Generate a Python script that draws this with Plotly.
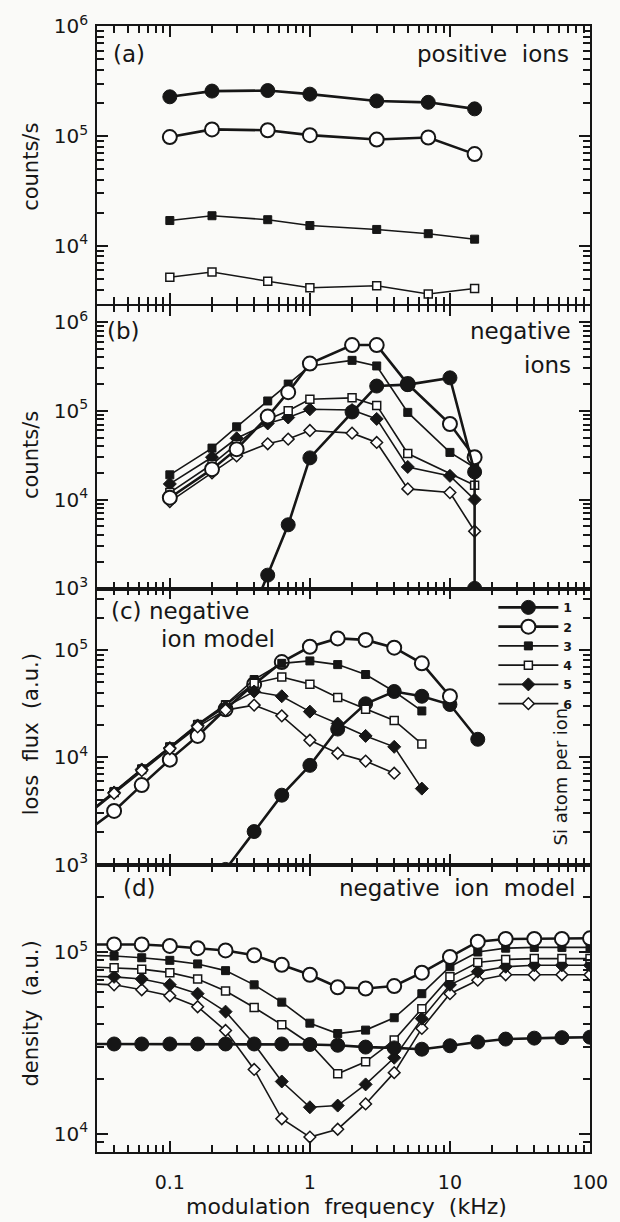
import plotly.graph_objects as go
from plotly.subplots import make_subplots

# ---------------- data ----------------
# panel (a) positive ions
fa = [0.1, 0.2, 0.5, 1, 3, 7, 15]
a1 = [2.28e5, 2.57e5, 2.6e5, 2.41e5, 2.09e5, 2.03e5, 1.77e5]
a2 = [9.8e4, 1.15e5, 1.13e5, 1.02e5, 9.3e4, 9.7e4, 6.85e4]
a3 = [1.7e4, 1.88e4, 1.73e4, 1.53e4, 1.41e4, 1.29e4, 1.15e4]
a4 = [5.17e3, 5.77e3, 4.76e3, 4.15e3, 4.33e3, 3.64e3, 4.09e3]

# panel (b) negative ions
fb = [0.1, 0.2, 0.3, 0.5, 0.7, 1, 2, 3, 5, 10, 15]
fb1 = [0.3, 0.5, 0.7, 1, 2, 3, 5, 10, 15, 15]
b1 = [2e2, 1.41e3, 5.2e3, 2.95e4, 9.7e4, 1.9e5, 1.97e5, 2.35e5, 2.05e4, 1e3]
b2 = [1.05e4, 2.2e4, 3.7e4, 8.6e4, 1.62e5, 3.4e5, 5.5e5, 5.5e5, 2.0e5, 7.1e4, 3.0e4]
b3 = [1.9e4, 3.8e4, 6.6e4, 1.29e5, 2.0e5, 3.2e5, 3.7e5, 3.2e5, 9.6e4, 3.4e4, 2.3e4]
fb4 = [0.1, 0.2, 0.3, 0.5, 0.7, 1, 2, 3, 5, 15]
b4 = [1.2e4, 2.5e4, 4.2e4, 8.0e4, 1.0e5, 1.35e5, 1.4e5, 1.15e5, 3.3e4, 1.45e4]
b5 = [1.5e4, 3.0e4, 4.9e4, 7.2e4, 8.4e4, 1.04e5, 1.02e5, 8.1e4, 2.33e4, 1.85e4, 1.0e4]
b6 = [9.5e3, 2.0e4, 3.1e4, 4.25e4, 4.8e4, 6.0e4, 5.6e4, 4.4e4, 1.32e4, 1.2e4, 4.4e3]

# panel (c) negative ion model: loss flux
fc = [0.025, 0.04, 0.063, 0.1, 0.158, 0.25, 0.4, 0.63, 1.0, 1.58, 2.5, 4.0, 6.3, 10, 15.8]
fc1 = [0.25, 0.4, 0.63, 1.0, 1.58, 2.5, 4.0, 6.3, 10, 15.8]
c1 = [9e2, 2.03e3, 4.43e3, 8.4e3, 1.83e4, 3.15e4, 4.1e4, 3.7e4, 3.1e4, 1.47e4]
c2 = [2.0e3, 3.16e3, 5.5e3, 9.5e3, 1.58e4, 2.8e4, 4.8e4, 7.7e4, 1.07e5, 1.28e5, 1.24e5, 1.05e5, 7.5e4, 3.7e4]
c3 = [2.9e3, 4.8e3, 7.8e3, 1.25e4, 2.03e4, 3.1e4, 5.3e4, 7.5e4, 7.9e4, 7.3e4, 5.9e4, 4.1e4, 2.7e4]
c4 = [2.9e3, 4.7e3, 7.7e3, 1.24e4, 2.0e4, 3.05e4, 4.9e4, 5.6e4, 4.8e4, 3.6e4, 2.8e4, 2.2e4, 1.33e4]
c5 = [2.85e3, 4.7e3, 7.7e3, 1.22e4, 1.98e4, 2.95e4, 4.1e4, 3.7e4, 2.66e4, 2.06e4, 1.58e4, 1.25e4, 5.1e3]
c6 = [2.8e3, 4.6e3, 7.5e3, 1.2e4, 1.92e4, 2.75e4, 3.06e4, 2.43e4, 1.44e4, 1.09e4, 9.2e3, 7.1e3]

# panel (d) negative ion model: density
fd = [0.025, 0.04, 0.063, 0.1, 0.158, 0.25, 0.4, 0.63, 1.0, 1.58, 2.5, 4.0, 6.3, 10, 15.8, 25, 40, 63, 100]
d1 = [3.12e4, 3.12e4, 3.12e4, 3.12e4, 3.12e4, 3.12e4, 3.12e4, 3.12e4, 3.1e4, 3.07e4, 3.0e4, 2.97e4, 2.92e4, 3.05e4, 3.2e4, 3.32e4, 3.36e4, 3.38e4, 3.4e4]
d2 = [1.1e5, 1.1e5, 1.1e5, 1.08e5, 1.05e5, 1.02e5, 9.6e4, 8.5e4, 7.5e4, 6.4e4, 6.3e4, 6.5e4, 7.7e4, 9.4e4, 1.14e5, 1.18e5, 1.18e5, 1.18e5, 1.19e5]
d3 = [9.6e4, 9.5e4, 9.3e4, 9.0e4, 8.6e4, 7.9e4, 6.6e4, 5.3e4, 4.06e4, 3.56e4, 3.72e4, 4.35e4, 5.9e4, 8.3e4, 1.0e5, 1.05e5, 1.06e5, 1.06e5, 1.06e5]
d4 = [8.3e4, 8.2e4, 8.05e4, 7.7e4, 7.1e4, 6.1e4, 4.95e4, 3.98e4, 3.13e4, 2.14e4, 2.49e4, 3.28e4, 4.87e4, 7.3e4, 8.75e4, 9.1e4, 9.2e4, 9.2e4, 9.2e4]
d5 = [7.35e4, 7.3e4, 7.1e4, 6.6e4, 5.9e4, 4.7e4, 3.12e4, 1.94e4, 1.4e4, 1.43e4, 1.87e4, 2.62e4, 4.3e4, 6.6e4, 7.8e4, 8.3e4, 8.45e4, 8.45e4, 8.45e4]
d6 = [6.7e4, 6.6e4, 6.2e4, 5.75e4, 5.0e4, 3.7e4, 2.26e4, 1.21e4, 9.6e3, 1.06e4, 1.46e4, 2.17e4, 3.8e4, 5.9e4, 7.0e4, 7.5e4, 7.5e4, 7.5e4, 7.5e4]

series_names = ["1", "2", "3", "4", "5", "6"]
x_major = [0.01, 0.1, 1, 10, 100]
x_major_text = ["0.01", "0.1", "1", "10", "100"]
y_exponents = [3, 4, 5, 6]

# ---------------- styling ----------------
INK = "#161616"
BG = "#fafaf8"
FONT = "DejaVu Sans, Verdana, sans-serif"

styles = {
    "1": dict(symbol="circle", size=14, fill=INK, lw=2.6, mlw=1),
    "2": dict(symbol="circle", size=14, fill="white", lw=2.6, mlw=2),
    "3": dict(symbol="square", size=8, fill=INK, lw=1.6, mlw=1),
    "4": dict(symbol="square", size=8, fill="white", lw=1.6, mlw=1.5),
    "5": dict(symbol="diamond", size=10, fill=INK, lw=1.6, mlw=1),
    "6": dict(symbol="diamond", size=9, fill="white", lw=1.6, mlw=1.5),
}

fig = make_subplots(rows=4, cols=1, shared_xaxes=True, vertical_spacing=0)


def add(row, x, y, key, legend=False):
    s = styles[key]
    fig.add_trace(go.Scatter(
        x=x, y=y, mode="lines+markers", name=key, showlegend=legend,
        line=dict(color=INK, width=s["lw"]),
        marker=dict(symbol=s["symbol"], size=s["size"], color=s["fill"],
                    line=dict(color=INK, width=s["mlw"])),
    ), row=row, col=1)


add(1, fa, a1, "1"); add(1, fa, a2, "2"); add(1, fa, a3, "3"); add(1, fa, a4, "4")

add(2, fb, b6, "6"); add(2, fb, b5, "5"); add(2, fb4, b4, "4")
add(2, fb, b3, "3"); add(2, fb, b2, "2"); add(2, fb1, b1, "1")

add(3, fc1, c1, "1", True); add(3, fc[:-1], c2, "2", True); add(3, fc[:-2], c3, "3", True)
add(3, fc[:-2], c4, "4", True); add(3, fc[:-2], c5, "5", True); add(3, fc[:-3], c6, "6", True)

add(4, fd, d6, "6"); add(4, fd, d5, "5"); add(4, fd, d4, "4")
add(4, fd, d3, "3"); add(4, fd, d2, "2"); add(4, fd, d1, "1")

domains = [[0.7535, 1.0], [0.5004, 0.7517], [0.2551, 0.5004], [0.0, 0.2551]]
yranges = [[3.474, 6.003], [2.998, 6.185], [2.998, 5.572], [3.9, 5.48]]
xrange_log = [-1.52, 2.0]
row_data = [(fa, a1), (fb, b2), (fc[:-1], c2), (fd, d2)]

# all ticks (decades labelled, 2..9 unlabelled) on the main axes
x_all = list(x_major) + [m * 10.0 ** e for e in range(-2, 3) for m in range(2, 10)]
x_all_text = list(x_major_text) + [" "] * (len(x_all) - len(x_major))
y_all = [10.0 ** e for e in y_exponents] + [m * 10.0 ** e for e in range(2, 7) for m in range(2, 10)]
y_all_text = ["10<sup>%d</sup>" % e for e in y_exponents] + [" "] * (len(y_all) - len(y_exponents))

axis_common = dict(showline=True, linecolor=INK, linewidth=1.8, mirror="ticks",
                   ticks="inside", ticklen=7, tickwidth=1.5, tickcolor=INK,
                   showgrid=False, zeroline=False, tickmode="array", tickangle=0)

major_common = dict(showline=True, linecolor=INK, linewidth=1.8, mirror="ticks",
                    ticks="inside", ticklen=11, tickwidth=1.7, tickcolor=INK,
                    showgrid=False, zeroline=False, showticklabels=False,
                    tickmode="array", type="log")

layout_extra = {}
for i in range(4):
    r = i + 1
    fig.update_yaxes(type="log", range=yranges[i], domain=domains[i],
                     tickvals=y_all, ticktext=y_all_text,
                     tickfont=dict(size=20, color=INK, family=FONT),
                     ticklabelstandoff=3, row=r, col=1, **axis_common)
    fig.update_xaxes(type="log", range=xrange_log,
                     tickvals=x_all, ticktext=x_all_text,
                     showticklabels=(r == 4),
                     tickfont=dict(size=19, color=INK, family=FONT),
                     ticklabelstandoff=12, row=r, col=1, **axis_common)
    # twin axes carrying the longer decade ticks
    n = 5 + i
    main_x = "x" if r == 1 else "x%d" % r
    main_y = "y" if r == 1 else "y%d" % r
    layout_extra["xaxis%d" % n] = dict(overlaying=main_x, anchor=main_y, side="bottom",
                                       range=xrange_log, tickvals=x_major, **major_common)
    layout_extra["yaxis%d" % n] = dict(overlaying=main_y, anchor=main_x, side="left",
                                       range=yranges[i], tickvals=[10.0 ** e for e in y_exponents],
                                       **major_common)
    xs, ys = row_data[i]
    fig.add_trace(go.Scatter(x=xs, y=ys, xaxis="x%d" % n, yaxis=main_y, mode="lines",
                             opacity=0, showlegend=False, hoverinfo="skip"))
    fig.add_trace(go.Scatter(x=xs, y=ys, xaxis=main_x, yaxis="y%d" % n, mode="lines",
                             opacity=0, showlegend=False, hoverinfo="skip"))

fig.update_layout(**layout_extra)


def px2x(px):
    return (px - 97) / 500.0


def py2y(py):
    return (1151.7 - py) / 1137.0


ann = []


def text(t, px, py, xanchor="left", size=23, angle=0, weight="normal"):
    ann.append(dict(text=t, x=px2x(px), y=py2y(py), xref="paper", yref="paper",
                    xanchor=xanchor, yanchor="middle", showarrow=False,
                    textangle=angle,
                    font=dict(size=size, color=INK, family=FONT, weight=weight)))


text("(a)", 111, 43)
text("positive  ions", 578, 43, "right")
text("(b)", 105, 323)
text("negative", 580, 323, "right")
text("ions", 580, 357, "right")
text("(c) negative", 109, 605)
text("ion model", 160, 634)
text("(d)", 121, 885)
text("negative  ion  model", 585, 885, "right")
text("Si atom per ion", 568, 772, "center", 18, -90)

text("counts/s", 30, 157, "center", 21, -90)
text("counts/s", 30, 448, "center", 21, -90)
text("loss  flux  (a.u.)", 30, 730, "center", 21, -90)
text("density  (a.u.)", 30, 1012, "center", 21, -90)
text("modulation  frequency  (kHz)", 350, 1207, "center", 22)

fig.update_layout(
    width=620, height=1222,
    margin=dict(l=97, r=23, t=15, b=70),
    paper_bgcolor=BG, plot_bgcolor=BG,
    font=dict(family=FONT, color=INK),
    annotations=ann,
    legend=dict(x=px2x(499), y=py2y(587), xanchor="left", yanchor="top",
                bgcolor="rgba(0,0,0,0)",
                font=dict(size=12.5, color=INK, family=FONT, weight="bold"),
                tracegroupgap=0, itemwidth=60),
)

fig.write_html("out.html")
